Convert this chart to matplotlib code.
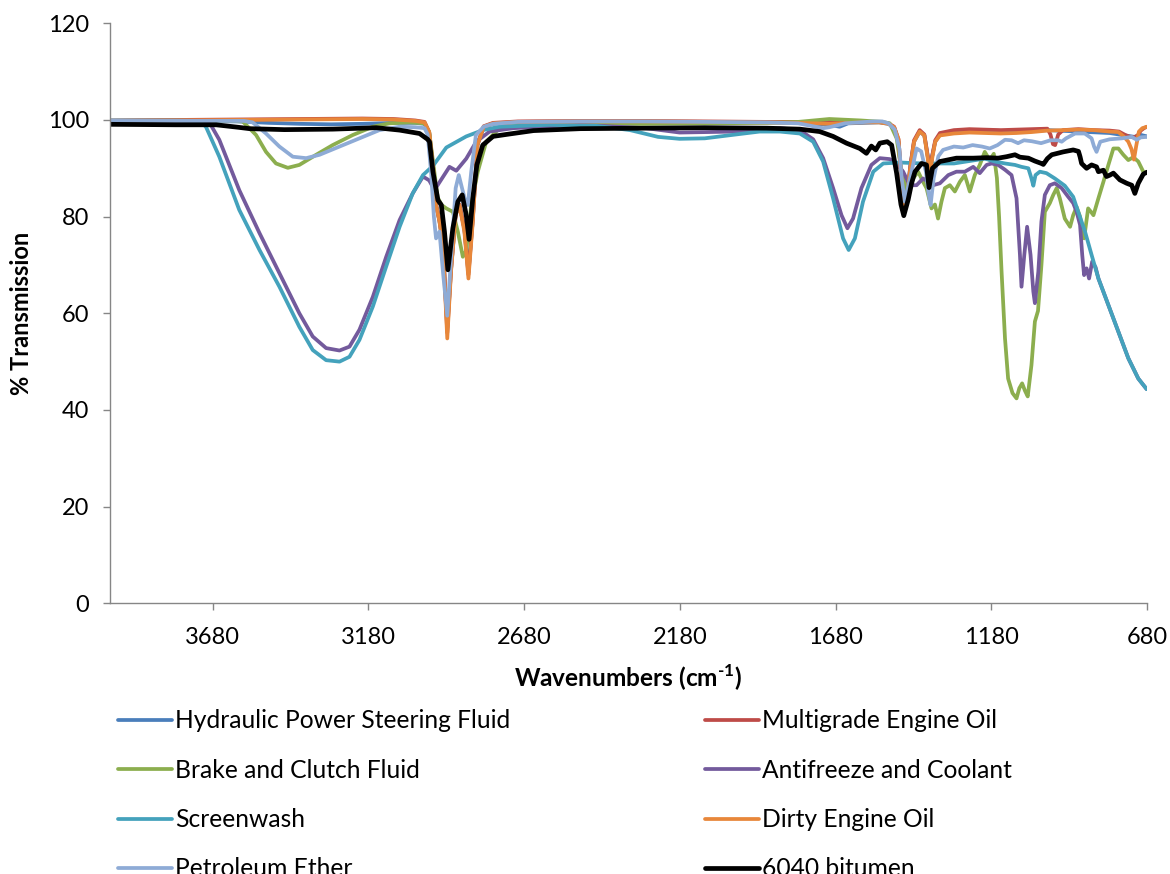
import matplotlib
matplotlib.use("Agg")
import matplotlib.pyplot as plt

plt.rcParams['font.family'] = ['Lato', 'DejaVu Sans']
plt.rcParams['mathtext.fontset'] = 'custom'
plt.rcParams['mathtext.rm'] = 'Lato:bold'
plt.rcParams['mathtext.bf'] = 'Lato:bold'

# ---- spectra: wavenumber (cm-1) and % transmission ----
hyd_wn = [4010, 3800, 3600, 3500, 3400, 3300, 3200, 3100, 3030, 3000,
          2985, 2972, 2963, 2952, 2941, 2927, 2915, 2900, 2888, 2872,
          2859, 2845, 2830, 2810, 2780, 2700, 2500, 2300, 2100, 1900,
          1800, 1700, 1667, 1640, 1540, 1510, 1492, 1478, 1468, 1460,
          1450, 1440, 1428, 1410, 1395, 1384, 1377, 1370, 1360, 1345,
          1300, 1200, 1100, 1000, 900, 800, 750, 720, 700, 680]
hyd_t = [99.8, 99.8, 99.7, 99.4, 99.2, 99.1, 99.2, 99.4, 99.4, 99.2,
         97.3, 90.0, 82.5, 79.0, 74.3, 57.0, 69.0, 80.5, 82.5, 77.5,
         68.5, 79.5, 94.8, 98.5, 99.2, 99.5, 99.6, 99.6, 99.6, 99.5,
         99.4, 99.0, 98.6, 99.3, 99.5, 99.2, 98.4, 95.5, 87.0, 82.0,
         84.5, 90.5, 95.5, 97.6, 96.8, 92.5, 89.5, 92.5, 95.5, 97.0,
         97.6, 97.9, 97.6, 97.9, 97.6, 97.3, 96.8, 96.5, 96.9, 96.6]

multi_wn = [4010, 3800, 3600, 3400, 3200, 3100, 3030, 3000,
            2985, 2972, 2963, 2952, 2941, 2927, 2915, 2900, 2888, 2872,
            2859, 2845, 2830, 2810, 2780, 2700, 2500, 2300, 2100, 1900,
            1800, 1700, 1600, 1540, 1510, 1492, 1478, 1468, 1460, 1450,
            1440, 1428, 1410, 1395, 1384, 1377, 1370, 1360, 1345, 1300,
            1250, 1200, 1150, 1100, 1050, 1000, 990, 982, 975, 965,
            950, 900, 850, 800, 770, 750, 735, 722, 710, 700,
            690, 680]
multi_t = [99.9, 100.0, 100.1, 100.2, 100.3, 100.2, 99.9, 99.6,
           97.5, 90.0, 82.5, 79.2, 74.5, 56.0, 69.0, 80.5, 82.5, 77.5,
           68.0, 79.5, 95.0, 98.7, 99.4, 99.7, 99.8, 99.8, 99.7, 99.6,
           99.6, 99.6, 99.6, 99.6, 99.3, 98.6, 96.0, 87.5, 81.5, 84.5,
           90.5, 95.8, 97.9, 97.0, 92.5, 89.0, 92.5, 95.8, 97.3, 97.9,
           98.1, 98.0, 97.9, 98.0, 98.1, 98.2, 97.0, 95.0, 94.8, 97.0,
           97.9, 98.1, 97.9, 97.8, 97.6, 96.9, 96.5, 96.4, 96.8, 97.8,
           98.3, 98.6]

brake_wn = [4010, 3800, 3620, 3584, 3541, 3509, 3477, 3439, 3402, 3348,
            3295, 3230, 3166, 3113, 3050, 3000, 2985, 2970, 2958, 2945,
            2930, 2909, 2893, 2877, 2866, 2850, 2829, 2802, 2759, 2700,
            2500, 2300, 2100, 1900, 1800, 1700, 1600, 1530, 1506, 1484,
            1468, 1452, 1431, 1415, 1399, 1388, 1372, 1361, 1351, 1340,
            1329, 1313, 1297, 1281, 1265, 1249, 1233, 1217, 1201, 1185,
            1172, 1162, 1155, 1147, 1136, 1126, 1112, 1099, 1090, 1081,
            1072, 1063, 1051, 1040, 1030, 1019, 1008, 992, 981, 970,
            960, 944, 927, 917, 906, 895, 882, 869, 860, 852,
            836, 820, 804, 788, 772, 756, 740, 724, 708, 692,
            680]
brake_t = [99.8, 99.8, 99.8, 99.7, 96.9, 93.4, 91.0, 90.1, 90.7, 92.8,
           94.8, 96.9, 98.6, 99.3, 99.5, 99.3, 97.5, 90.0, 84.0, 82.4,
           81.7, 81.0, 76.9, 71.7, 73.0, 82.4, 89.3, 95.5, 98.3, 98.8,
           99.1, 99.2, 99.3, 99.4, 99.6, 100.2, 99.9, 99.6, 99.3, 96.2,
           89.3, 85.2, 87.9, 89.3, 87.2, 85.9, 81.7, 82.5, 79.6, 83.1,
           85.9, 86.5, 85.2, 87.2, 88.6, 85.2, 88.6, 90.7, 93.4, 91.7,
           93.0, 88.0, 80.0, 68.6, 54.8, 46.5, 43.5, 42.4, 44.5, 45.5,
           44.0, 42.8, 49.3, 58.3, 60.5, 70.0, 81.0, 82.8, 84.5, 85.9,
           83.8, 79.6, 77.9, 80.3, 82.0, 80.0, 75.5, 81.7, 81.0, 80.3,
           83.8, 87.2, 90.7, 94.1, 94.1, 92.8, 91.7, 92.3, 91.4, 89.3,
           89.0]

anti_wn = [4010, 3800, 3700, 3691, 3659, 3595, 3530, 3466, 3402, 3359,
           3316, 3273, 3241, 3209, 3166, 3123, 3080, 3038, 3005, 2985,
           2968, 2947, 2920, 2898, 2866, 2834, 2791, 2716, 2502, 2288,
           2181, 2000, 1859, 1795, 1752, 1720, 1688, 1661, 1642, 1624,
           1597, 1565, 1538, 1506, 1484, 1463, 1442, 1420, 1399, 1367,
           1345, 1318, 1292, 1265, 1238, 1217, 1195, 1179, 1158, 1136,
           1115, 1099, 1088, 1083, 1074, 1065, 1054, 1045, 1040, 1029,
           1019, 1008, 992, 976, 954, 933, 917, 906, 895, 888,
           882, 874, 866, 856, 845, 836, 804, 772, 740, 708,
           681]
anti_t = [99.8, 99.8, 99.8, 99.5, 95.9, 85.5, 76.6, 68.3, 60.0, 55.2,
          52.8, 52.3, 53.1, 56.6, 63.4, 71.7, 79.3, 84.8, 88.3, 87.5,
          85.5, 87.6, 90.3, 89.5, 92.0, 95.5, 97.6, 98.3, 99.0, 98.3,
          97.4, 97.6, 98.3, 97.9, 96.0, 92.1, 85.9, 80.3, 77.6, 79.6,
          85.9, 90.7, 92.1, 91.9, 91.0, 89.3, 86.5, 86.5, 87.9, 86.5,
          86.9, 88.6, 89.3, 89.3, 90.3, 89.0, 90.7, 91.0, 90.7, 89.7,
          88.6, 83.8, 72.1, 65.5, 72.1, 77.9, 72.1, 64.5, 62.1, 68.6,
          79.0, 84.5, 86.5, 86.9, 85.9, 84.1, 82.8, 81.0, 78.3, 72.1,
          67.9, 69.3, 67.2, 70.7, 69.5, 67.2, 61.7, 56.2, 50.7, 46.5,
          44.3]

screen_wn = [4010, 3800, 3723, 3702, 3659, 3595, 3530, 3466, 3402, 3359,
             3316, 3273, 3241, 3209, 3166, 3123, 3080, 3038, 3005, 2973,
             2930, 2866, 2813, 2759, 2600, 2450, 2340, 2250, 2181, 2100,
             2000, 1924, 1859, 1795, 1752, 1720, 1688, 1656, 1638, 1618,
             1592, 1559, 1527, 1474, 1400, 1300, 1201, 1168, 1136, 1104,
             1083, 1061, 1051, 1045, 1038, 1024, 1003, 976, 944, 917,
             901, 879, 858, 836, 804, 772, 740, 708, 681]
screen_t = [99.9, 99.9, 99.8, 98.6, 92.4, 81.4, 73.1, 65.5, 57.2, 52.4,
            50.3, 50.0, 51.0, 54.5, 61.4, 69.7, 77.9, 84.8, 88.6, 90.5,
            94.3, 96.6, 97.9, 98.6, 99.0, 98.8, 97.9, 96.5, 96.1, 96.2,
            97.0, 97.6, 97.6, 97.2, 95.5, 91.4, 83.8, 75.5, 73.1, 75.5,
            83.1, 89.3, 91.0, 91.2, 91.0, 91.0, 92.0, 91.4, 91.0, 90.7,
            90.3, 90.0, 87.9, 86.4, 88.6, 89.3, 89.0, 87.9, 86.4, 84.1,
            81.0, 76.9, 72.1, 67.2, 61.7, 56.2, 50.7, 46.5, 44.3]

dirty_wn = [4010, 3800, 3600, 3400, 3200, 3100, 3030, 3000,
            2985, 2972, 2963, 2952, 2941, 2927, 2915, 2900, 2888, 2872,
            2859, 2845, 2830, 2810, 2780, 2700, 2500, 2300, 2100, 1900,
            1800, 1700, 1600, 1540, 1510, 1492, 1478, 1468, 1460, 1450,
            1440, 1428, 1410, 1395, 1384, 1377, 1370, 1360, 1345, 1300,
            1250, 1200, 1150, 1100, 1050, 1000, 950, 900, 850, 800,
            772, 755, 740, 730, 722, 715, 706, 695, 680]
dirty_t = [99.8, 99.9, 100.0, 100.1, 100.2, 100.1, 99.8, 99.5,
           97.5, 90.0, 82.4, 79.0, 74.1, 54.8, 68.6, 80.3, 82.4, 76.9,
           67.2, 79.0, 94.8, 98.6, 99.3, 99.6, 99.7, 99.7, 99.6, 99.5,
           99.4, 99.2, 99.5, 99.5, 99.2, 98.5, 96.0, 87.0, 81.0, 84.0,
           90.0, 95.5, 97.6, 96.8, 92.0, 88.5, 92.0, 95.5, 96.8, 97.2,
           97.4, 97.3, 97.2, 97.3, 97.5, 97.8, 97.9, 98.0, 97.9, 97.6,
           97.5, 96.6, 95.5, 94.0, 91.8, 94.5, 97.6, 98.3, 98.6]

ether_wn = [4010, 3700, 3580, 3552, 3509, 3466, 3423, 3380, 3337, 3273,
            3209, 3145, 3080, 3030, 3000, 2990, 2979, 2970, 2963, 2952,
            2940, 2927, 2914, 2900, 2890, 2880, 2870, 2861, 2850, 2835,
            2810, 2780, 2700, 2500, 2300, 2100, 1900, 1800, 1720, 1700,
            1650, 1560, 1530, 1510, 1490, 1475, 1468, 1458, 1448, 1436,
            1420, 1405, 1390, 1382, 1375, 1365, 1350, 1335, 1300, 1270,
            1240, 1210, 1185, 1160, 1136, 1115, 1094, 1075, 1050, 1020,
            990, 965, 954, 940, 911, 880, 858, 850, 842, 830,
            800, 761, 729, 713, 700, 680]
ether_t = [99.8, 99.8, 99.8, 99.5, 97.2, 94.5, 92.4, 92.1, 92.8, 94.5,
           96.2, 97.9, 98.6, 98.5, 98.3, 97.0, 89.3, 80.0, 75.5, 76.9,
           68.0, 59.5, 72.1, 85.9, 88.6, 86.0, 83.5, 82.4, 89.3, 96.9,
           98.6, 99.2, 99.6, 99.7, 99.7, 99.6, 99.5, 99.3, 98.3, 98.5,
           99.3, 99.7, 99.7, 99.3, 98.0, 94.0, 88.0, 83.1, 86.0, 89.3,
           94.1, 93.5, 89.3, 85.0, 82.4, 88.0, 92.5, 93.8, 94.5, 94.3,
           94.8, 94.5, 94.1, 94.8, 95.9, 95.8, 95.2, 95.8, 95.6, 95.2,
           95.8, 95.8, 95.5, 96.2, 97.2, 97.2, 96.2, 94.5, 93.4, 95.5,
           96.0, 96.2, 96.5, 95.9, 96.4, 96.5]

bitumen_wn = [4010, 3800, 3669, 3600, 3562, 3450, 3295, 3155, 3080, 3016,
              2990, 2984, 2973, 2957, 2946, 2936, 2925, 2909, 2893, 2879,
              2866, 2857, 2845, 2832, 2813, 2780, 2738, 2650, 2500, 2300,
              2100, 1900, 1795, 1731, 1688, 1645, 1602, 1581, 1565, 1551,
              1538, 1514, 1500, 1484, 1470, 1461, 1447, 1436, 1425, 1404,
              1388, 1380, 1369, 1345, 1292, 1238, 1195, 1158, 1131, 1104,
              1088, 1061, 1040, 1019, 1013, 1000, 986, 949, 917, 900,
              895, 890, 874, 858, 842, 836, 820, 810, 799, 788,
              767, 745, 729, 719, 708, 692, 680]
bitumen_t = [99.1, 99.0, 99.0, 98.5, 98.2, 98.0, 98.1, 98.4, 97.9, 97.2,
             96.0, 95.5, 89.3, 83.4, 82.4, 76.9, 69.0, 77.6, 83.1, 84.5,
             80.3, 75.3, 83.8, 90.7, 94.8, 96.6, 97.0, 97.8, 98.2, 98.3,
             98.4, 98.3, 98.1, 97.6, 96.6, 95.2, 94.1, 93.1, 94.6, 93.8,
             95.2, 95.5, 94.8, 89.0, 82.5, 80.2, 83.5, 86.9, 89.3, 91.0,
             90.7, 86.0, 90.0, 91.4, 92.1, 92.1, 92.2, 92.1, 92.4, 92.8,
             92.3, 92.1, 91.5, 91.0, 90.8, 92.0, 92.8, 93.4, 93.8, 93.5,
             92.4, 91.0, 90.0, 90.7, 90.3, 89.3, 89.6, 88.3, 88.6, 89.0,
             87.6, 86.9, 86.5, 84.8, 86.9, 88.8, 89.2]

labels = ["Hydraulic Power Steering Fluid", "Multigrade Engine Oil",
          "Brake and Clutch Fluid", "Antifreeze and Coolant",
          "Screenwash", "Dirty Engine Oil", "Petroleum Ether", "6040 bitumen"]
x_ticks = [3680, 3180, 2680, 2180, 1680, 1180, 680]
y_ticks = [0, 20, 40, 60, 80, 100, 120]

colors = ['#4A7EBB', '#BE4B48', '#8CAE4E', '#735A9C',
          '#44A2BC', '#E8873A', '#8EABD6', '#000000']
widths = [2.7, 2.7, 2.7, 2.7, 2.7, 2.7, 2.7, 3.4]
data = [(hyd_wn, hyd_t), (multi_wn, multi_t), (brake_wn, brake_t),
        (anti_wn, anti_t), (screen_wn, screen_t), (dirty_wn, dirty_t),
        (ether_wn, ether_t), (bitumen_wn, bitumen_t)]

W, H = 1170, 874
fig = plt.figure(figsize=(W / 100, H / 100), dpi=100)
ax = fig.add_axes([110 / W, 1 - 603.3 / H, 1037 / W, 580 / H])

lines = []
for (wn, t), lab, c, lw in zip(data, labels, colors, widths):
    ln, = ax.plot(wn, t, color=c, lw=lw, label=lab,
                  solid_joinstyle='round', solid_capstyle='round')
    lines.append(ln)

ax.set_xlim(4010, 680)
ax.set_ylim(0, 120)
ax.set_xticks(x_ticks)
ax.set_yticks(y_ticks)
for s in ('top', 'right'):
    ax.spines[s].set_visible(False)
for s in ('left', 'bottom'):
    ax.spines[s].set_color('#868686')
    ax.spines[s].set_linewidth(1.0)
ax.tick_params(axis='both', direction='out', length=5, width=1.0,
               color='#868686', labelsize=17, labelcolor='#000000')
ax.tick_params(axis='x', pad=12)
ax.tick_params(axis='y', pad=10)

ax.set_xlabel(r'Wavenumbers (cm$^{\text{-1}}$)', fontsize=17.6,
              fontweight='bold')
ax.xaxis.set_label_coords(0.5, (603.3 - 678) / 580)
ax.xaxis.label.set_va('center')
ax.set_ylabel('% Transmission', fontsize=17, fontweight='bold')
ax.yaxis.set_label_coords((22 - 110) / 1037, 0.5)
ax.yaxis.label.set_va('center')

leg_kw = dict(frameon=False, loc='upper left', borderpad=0, borderaxespad=0,
              handlelength=2.2, handletextpad=0.12, labelspacing=1.07,
              fontsize=17.7)
col1 = [0, 2, 4, 6]
col2 = [1, 3, 5, 7]
fig.legend([lines[i] for i in col1], [labels[i] for i in col1],
           bbox_to_anchor=(118 / W, 1 - 709.5 / H), **leg_kw)
fig.legend([lines[i] for i in col2], [labels[i] for i in col2],
           bbox_to_anchor=(705 / W, 1 - 709.5 / H), **leg_kw)

fig.savefig('out.png', dpi=100)
